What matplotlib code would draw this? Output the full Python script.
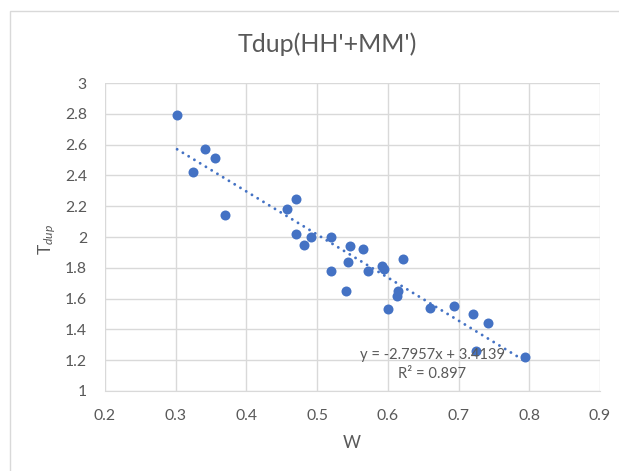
import matplotlib
matplotlib.use("Agg")
import matplotlib.pyplot as plt
from matplotlib.patches import Rectangle
import numpy as np

plt.rcParams['font.family'] = ['Lato', 'DejaVu Sans']
plt.rcParams['mathtext.fontset'] = 'custom'
plt.rcParams['mathtext.rm'] = 'Lato'
plt.rcParams['mathtext.it'] = 'Lato:italic'

# data
w_values = [0.302, 0.341, 0.355, 0.324, 0.369, 0.470, 0.458, 0.470, 0.482, 0.492,
            0.520, 0.520, 0.546, 0.544, 0.541, 0.565, 0.572, 0.592, 0.594, 0.621,
            0.600, 0.615, 0.613, 0.659, 0.694, 0.721, 0.741, 0.725, 0.794]
t_values = [2.79, 2.57, 2.51, 2.42, 2.14, 2.25, 2.18, 2.02, 1.95, 2.00,
            2.00, 1.78, 1.94, 1.84, 1.65, 1.92, 1.78, 1.81, 1.79, 1.86,
            1.53, 1.65, 1.62, 1.54, 1.55, 1.50, 1.44, 1.26, 1.22]
slope = -2.7957
intercept = 3.4139
r_squared = 0.897
x_ticks = [0.2, 0.3, 0.4, 0.5, 0.6, 0.7, 0.8, 0.9]
y_ticks = [1, 1.2, 1.4, 1.6, 1.8, 2, 2.2, 2.4, 2.6, 2.8, 3]
title = "Tdup(HH'+MM')"

W, H = 619, 471
fig = plt.figure(figsize=(W / 100, H / 100), dpi=100)
gray_text = '#595959'
grid_col = '#d9d9d9'

# chart border
fig.patches.append(Rectangle((9.5 / W, -0.1), 1.2, 1 - 10.5 / H + 0.1,
                             transform=fig.transFigure, fill=False,
                             edgecolor=grid_col, linewidth=1))

ax = fig.add_axes([105 / W, 1 - 391 / H, (600 - 105) / W, (391 - 83) / H])
ax.set_xlim(0.2, 0.9)
ax.set_ylim(1, 3)
ax.set_xticks(x_ticks)
ax.set_yticks(y_ticks)
ax.set_xticklabels([f"{v:g}" for v in x_ticks])
ax.set_yticklabels([f"{v:g}" for v in y_ticks])
ax.grid(True, color=grid_col, linewidth=1)
ax.set_axisbelow(True)
for s in ax.spines.values():
    s.set_visible(False)
ax.spines['bottom'].set_visible(True)
ax.spines['bottom'].set_color(grid_col)
ax.tick_params(length=0, labelsize=11.3, labelcolor=gray_text, pad=13)

blue = '#4472C4'
ax.plot(w_values, t_values, 'o', color=blue, markersize=7.2, zorder=3,
        markeredgewidth=0)

xs = np.array([min(w_values), max(w_values)])
ax.plot(xs, slope * xs + intercept, color=blue, linewidth=2.1,
        linestyle=(0, (0.01, 2.3)), dash_capstyle='round', zorder=4)

fig.text(327 / W, 1 - 44 / H, title, ha='center', va='center',
         fontsize=18, color=gray_text)
fig.text(352 / W, 1 - 443 / H, 'W', ha='center', va='center',
         fontsize=12.5, color=gray_text)
fig.text(47 / W, 1 - 239 / H, r'$\mathrm{T}_{\mathit{dup}}$', ha='center',
         va='center', rotation=90, fontsize=12.5, color=gray_text)

fig.text(432 / W, 1 - 355 / H, f"y = {slope}x + {intercept}", ha='center',
         va='center', fontsize=10.6, color=gray_text, zorder=5)
fig.text(432 / W, 1 - 374 / H, f"R² = {r_squared}", ha='center',
         va='center', fontsize=10.6, color=gray_text, zorder=5)

fig.savefig('out.png', dpi=100)
